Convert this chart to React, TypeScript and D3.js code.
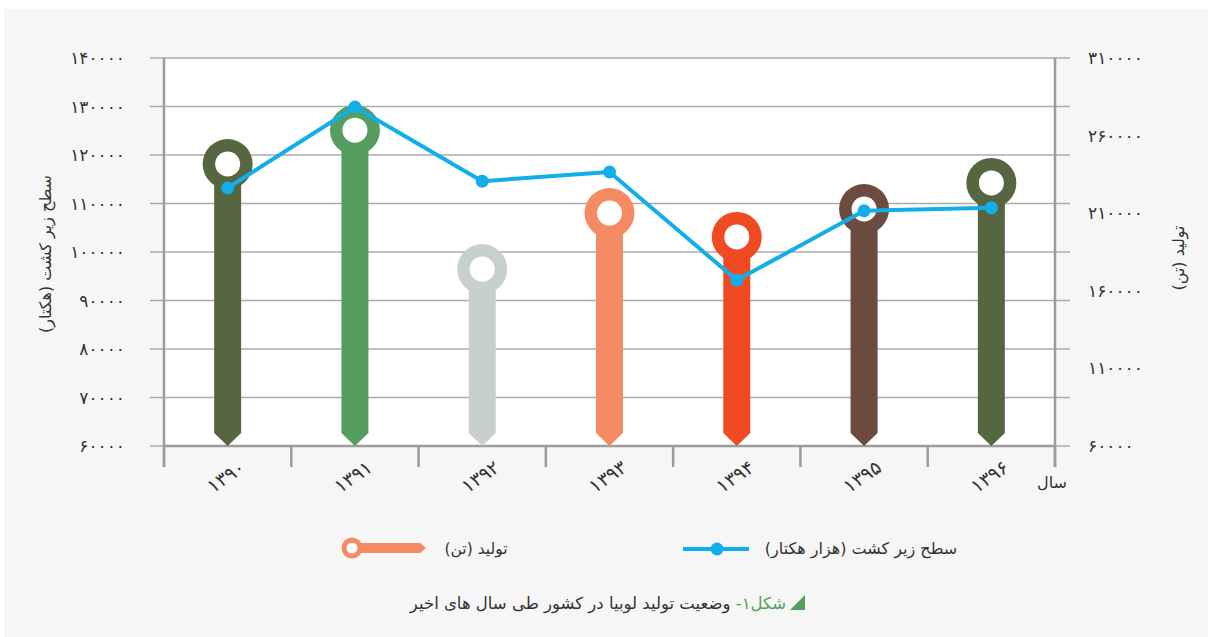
import React from 'react';
import * as d3 from 'd3';

// data
const years = ['1390', '1391', '1392', '1393', '1394', '1395', '1396'];
const areaHa = [113200, 129900, 114600, 116500, 94200, 108500, 109100];
const productionTon = [241700, 263500, 174000, 210100, 194700, 212700, 229500];
const barColors = ['#566640', '#559e5f', '#c8d0cd', '#f58b63', '#f04a23', '#6b4c3e', '#566640'];
const leftTicks = [60000, 70000, 80000, 90000, 100000, 110000, 120000, 130000, 140000];
const rightTicks = [60000, 110000, 160000, 210000, 260000, 310000];

const FONT = '"DejaVu Sans", sans-serif';
const LINE_COLOR = '#12aeea';
const GRID = '#ababab';
const AXIS = '#9c9c9e';

const faDigits = '۰۱۲۳۴۵۶۷۸۹';
const toFa = (s: string | number) => String(s).replace(/[0-9]/g, (d) => faDigits[+d]);

const App: React.FC = () => {
  const width = 1208;
  const height = 637;
  const margin = { top: 58, right: 1055, bottom: 446, left: 164 };

  const x = d3.scaleBand<string>().domain(years).range([margin.left, margin.right]).padding(0);
  const cx = (y: string) => (x(y) as number) + x.bandwidth() / 2;
  const yLeft = d3.scaleLinear().domain([60000, 140000]).range([margin.bottom, margin.top]);
  const yRight = d3.scaleLinear().domain([60000, 310000]).range([margin.bottom, margin.top]);

  const line = d3
    .line<number>()
    .x((_, i) => cx(years[i]))
    .y((d) => yLeft(d));

  const halfW = 13.5;
  const tip = 13;
  const lollipop = (c: number, top: number) =>
    `M${c - halfW},${top} L${c - halfW},${margin.bottom - tip} L${c},${margin.bottom} L${c + halfW},${margin.bottom - tip} L${c + halfW},${top} Z`;

  const boundaries = years.map((y) => x(y) as number).concat([margin.right]);

  return (
    <>
      <style>{'body{margin:0}'}</style>
      <svg width={width} height={height} style={{ display: 'block', fontFamily: FONT }}>
        <rect x={0} y={0} width={width} height={height} fill="#ffffff" />
        <rect x={4} y={9} width={width - 4} height={height - 9} fill="#f6f6f6" />
        <rect
          x={margin.left}
          y={margin.top}
          width={margin.right - margin.left}
          height={margin.bottom - margin.top}
          fill="#ffffff"
        />

        {/* gridlines */}
        {leftTicks.map((t) => (
          <line key={t} x1={150} x2={1070} y1={yLeft(t)} y2={yLeft(t)} stroke={GRID} strokeWidth={1.6} />
        ))}

        {/* axes */}
        <line x1={margin.left} x2={margin.left} y1={margin.top} y2={467} stroke={AXIS} strokeWidth={2.5} />
        <line x1={margin.right} x2={margin.right} y1={margin.top} y2={467} stroke={AXIS} strokeWidth={2.5} />
        <line x1={margin.left} x2={margin.right} y1={margin.bottom} y2={margin.bottom} stroke={AXIS} strokeWidth={2.5} />
        {boundaries.map((b, i) => (
          <line key={i} x1={b} x2={b} y1={margin.bottom} y2={467} stroke={AXIS} strokeWidth={2.5} />
        ))}

        {/* tick labels */}
        {leftTicks.map((t) => (
          <text key={t} x={125} y={yLeft(t) + 6} textAnchor="end" fontSize={17} letterSpacing={-1.5} fill="#333">
            {toFa(t)}
          </text>
        ))}
        {rightTicks.map((t) => (
          <text key={t} x={1088} y={yRight(t) + 6} textAnchor="start" fontSize={17} letterSpacing={-1.5} fill="#333">
            {toFa(t)}
          </text>
        ))}
        {years.map((y) => (
          <text
            key={y}
            transform={`translate(${cx(y) + 2},${482}) rotate(-35)`}
            textAnchor="middle"
            fontSize={19}
            fill="#333"
          >
            {toFa(y)}
          </text>
        ))}
        <text x={1052} y={488} textAnchor="middle" fontSize={16} fill="#333" direction="rtl">
          سال
        </text>

        {/* axis titles */}
        <text
          transform={`translate(51,${254}) rotate(-90)`}
          textAnchor="middle"
          fontSize={16}
          fill="#333"
          direction="rtl"
          style={{ direction: 'rtl' }}
        >
          سطح زیر کشت (هکتار)
        </text>
        <text
          transform={`translate(1184,${258}) rotate(-90)`}
          textAnchor="middle"
          fontSize={16}
          fill="#333"
          direction="rtl"
          style={{ direction: 'rtl' }}
        >
          تولید (تن)
        </text>

        {/* production lollipops */}
        {years.map((y, i) => {
          const c = cx(y);
          const cy = yRight(productionTon[i]);
          return (
            <g key={y}>
              <path d={lollipop(c, cy)} fill={barColors[i]} />
              <circle cx={c} cy={cy} r={25} fill={barColors[i]} />
              <circle cx={c} cy={cy} r={12.5} fill="#ffffff" />
            </g>
          );
        })}

        {/* area line */}
        <path d={line(areaHa) || ''} fill="none" stroke={LINE_COLOR} strokeWidth={4} strokeLinejoin="round" />
        {areaHa.map((v, i) => (
          <circle key={i} cx={cx(years[i])} cy={yLeft(v)} r={6.5} fill={LINE_COLOR} />
        ))}

        {/* legend */}
        <g>
          <path d="M352,543 L420,543 L426,548 L420,553 L352,553 Z" fill="#f58b63" />
          <circle cx={352} cy={548} r={10.5} fill="#f58b63" />
          <circle cx={352} cy={548} r={5.5} fill="#ffffff" />
          <text x={476} y={554} textAnchor="middle" fontSize={15.5} fill="#333" direction="rtl" style={{ direction: 'rtl' }}>
            تولید (تن)
          </text>
          <line x1={683} x2={749} y1={549} y2={549} stroke={LINE_COLOR} strokeWidth={4} />
          <circle cx={717} cy={549} r={6.5} fill={LINE_COLOR} />
          <text x={861} y={554} textAnchor="middle" fontSize={16} fill="#333" direction="rtl" style={{ direction: 'rtl' }}>
            سطح زیر کشت (هزار هکتار)
          </text>
        </g>

        {/* caption */}
        <path d="M805,595 L805,610 L790,610 Z" fill="#559e5f" />
        <text x={786} y={609} textAnchor="start" fontSize={16.5} direction="rtl" style={{ direction: 'rtl' }}>
          <tspan fill="#559e5f">شکل۱-</tspan>
          <tspan fill="#333"> وضعیت تولید لوبیا در کشور طی سال های اخیر</tspan>
        </text>
      </svg>
    </>
  );
};

export default App;
